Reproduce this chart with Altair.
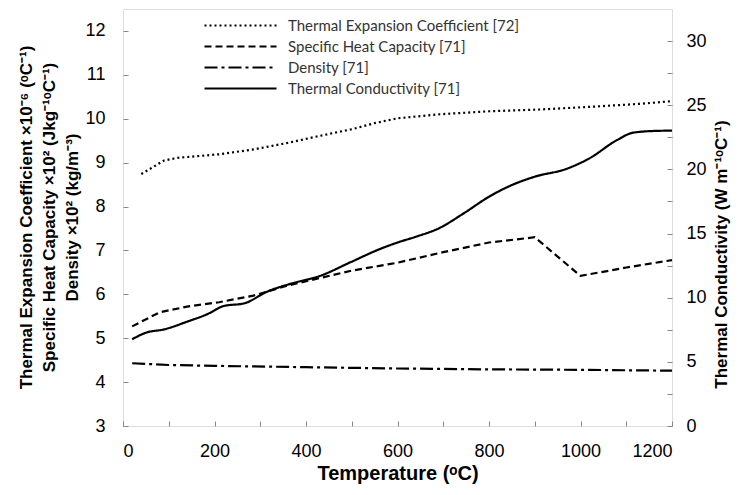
import altair as alt
import pandas as pd

FONT = "Lato"

# axis tick values
temp_ticks = [0, 100, 200, 300, 400, 500, 600, 700, 800, 900, 1000, 1100, 1200]
left_ticks = [3, 3.5, 4, 4.5, 5, 5.5, 6, 6.5, 7, 7.5, 8, 8.5, 9, 9.5, 10, 10.5, 11, 11.5, 12]
right_ticks = [0, 2.5, 5, 7.5, 10, 12.5, 15, 17.5, 20, 22.5, 25, 27.5, 30]

series_names = [
    "Thermal Expansion Coefficient [72]",
    "Specific Heat Capacity [71]",
    "Density [71]",
    "Thermal Conductivity [71]",
]

# Thermal expansion coefficient (x10^-6 /C), left axis
te_T = [40, 90, 120, 210, 285, 360, 430, 500, 550, 600, 690, 800, 910, 1020, 1130, 1200]
te_v = [8.74, 9.05, 9.11, 9.19, 9.30, 9.45, 9.61, 9.76, 9.90, 10.01, 10.10, 10.17, 10.21, 10.27, 10.34, 10.40]

# Specific heat capacity (x10^2 J/kgC), left axis
cp_T = [20, 80, 140, 210, 285, 360, 430, 500, 600, 700, 800, 900, 1000, 1100, 1200]
cp_v = [5.27, 5.59, 5.72, 5.82, 5.97, 6.20, 6.37, 6.54, 6.72, 6.96, 7.18, 7.30, 6.42, 6.61, 6.78]

# Density (x10^2 kg/m3), left axis
rho_T = [20, 100, 200, 400, 600, 800, 1000, 1200]
rho_v = [4.43, 4.39, 4.37, 4.34, 4.31, 4.29, 4.28, 4.26]

# Thermal conductivity (W/mC), right axis
k_T = [20, 50, 90, 140, 185, 220, 265, 315, 370, 430, 500, 560, 600, 640, 690, 745,
       800, 850, 900, 970, 1020, 1080, 1115, 1165, 1200]
k_v = [6.76, 7.27, 7.53, 8.13, 8.73, 9.35, 9.56, 10.47, 11.12, 11.69, 12.81, 13.77, 14.3,
       14.75, 15.4, 16.58, 17.87, 18.78, 19.43, 20.05, 20.87, 22.29, 22.86, 23.0, 23.02]

left_df = pd.concat([
    pd.DataFrame({"T": te_T, "v": te_v, "series": series_names[0]}),
    pd.DataFrame({"T": cp_T, "v": cp_v, "series": series_names[1]}),
    pd.DataFrame({"T": rho_T, "v": rho_v, "series": series_names[2]}),
], ignore_index=True)
right_df = pd.DataFrame({"T": k_T, "v": k_v, "series": series_names[3]})

dash_scale = alt.Scale(domain=series_names,
                       range=[[2, 3], [7, 4], [13, 4, 3, 4], [1, 0]])

legend = alt.Legend(
    orient="none", legendX=110, legendY=9, title=None,
    symbolType="M-6,0H6", symbolSize=144, symbolStrokeWidth=2,
    symbolStrokeColor="black", symbolFillColor="transparent",
    labelFont=FONT, labelFontSize=15, labelColor="#333333", labelLimit=0,
    labelOffset=40, rowPadding=5, padding=0,
)

x_enc = alt.X(
    "T:Q",
    scale=alt.Scale(domain=[0, 1200], nice=False),
    axis=alt.Axis(
        values=temp_ticks, format="d",
        labelExpr="datum.value % 200 == 0 ? datum.label : ''",
        title="Temperature (ᵒC)",
        titleFontSize=20, titleFontWeight="bold", titlePadding=3,
        labelFontSize=18, labelPadding=16,
        offset=-5, tickSize=5, domain=False,
        labelOverlap=False, grid=False,
    ),
)

left = alt.Chart(left_df).mark_line(strokeWidth=2.2, color="black").encode(
    x=x_enc,
    y=alt.Y(
        "v:Q",
        scale=alt.Scale(domain=[3, 12.5], nice=False, zero=False),
        axis=alt.Axis(
            values=left_ticks, format="d",
            labelExpr="datum.value % 1 == 0 ? datum.label : ''",
            title=[
                "Thermal Expansion Coefficient ×10⁻⁶ (ᵒC⁻¹)",
                "Specific Heat Capacity ×10² (Jkg⁻¹ᵒC⁻¹)",
                "Density ×10² (kg/m⁻³)",
            ],
            titleAngle=270, titleAlign="center", titleBaseline="top",
            titleX=-110, titleY=208, titleLineHeight=23,
            titleFontSize=17, titleFontWeight="bold",
            labelFontSize=18, labelPadding=18,
            offset=-5, tickSize=5, domain=False,
            labelOverlap=False, grid=False,
        ),
    ),
    strokeDash=alt.StrokeDash("series:N", scale=dash_scale, legend=legend),
)

right = alt.Chart(right_df).mark_line(strokeWidth=2.2, color="black", interpolate="monotone").encode(
    x=x_enc,
    y=alt.Y(
        "v:Q",
        scale=alt.Scale(domain=[0, 32.5], nice=False, zero=False),
        axis=alt.Axis(
            orient="right",
            values=right_ticks, format="d",
            labelExpr="datum.value % 5 == 0 ? datum.label : ''",
            title="Thermal Conductivity (W m⁻¹ᵒC⁻¹)",
            titleAngle=270, titleAlign="center", titleBaseline="middle",
            titleX=54, titleY=245,
            titleFontSize=17, titleFontWeight="bold",
            labelFontSize=18, labelPadding=14,
            offset=-5, tickSize=5, domain=False,
            labelOverlap=False, grid=False,
        ),
    ),
    strokeDash=alt.StrokeDash("series:N", scale=dash_scale, legend=legend),
)

chart = alt.layer(left, right).resolve_scale(y="independent").properties(
    width=549, height=417,
    autosize=alt.AutoSizeParams(type="none"),
    padding={"left": 115, "top": 1, "right": 60, "bottom": 60},
).configure_view(
    stroke="#444444", strokeWidth=1.5,
).configure_axis(
    labelFont=FONT, titleFont=FONT, labelColor="#333333", titleColor="black",
    tickColor="#444444", tickWidth=1.3,
).configure(background="white")

chart.save("out.html", embed_options={"renderer": "svg", "actions": False})
